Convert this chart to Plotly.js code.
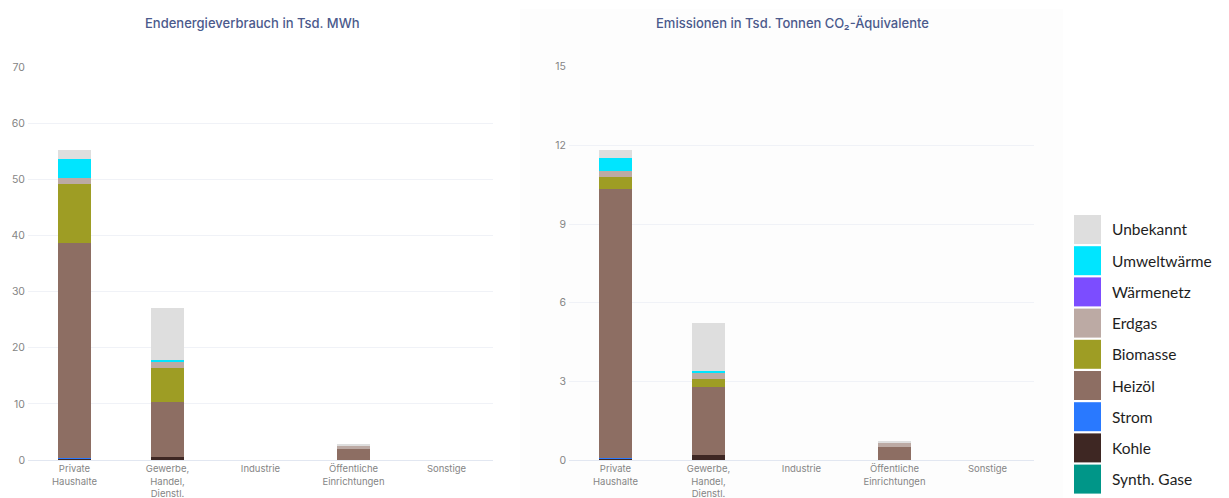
<!DOCTYPE html>
<html>
<head>
<meta charset="utf-8">
<script src="https://cdn.plot.ly/plotly-3.0.1.min.js"></script>
<style>html,body{margin:0;padding:0;background:#fff;}#chart{width:1229px;height:498px;}</style>
</head>
<body>
<div id="chart"></div>
<script>
// Categories (x tick labels)
const categories = ["Private<br>Haushalte", "Gewerbe,<br>Handel,<br>Dienstl.", "Industrie", "Öffentliche<br>Einrichtungen", "Sonstige"];

// Series (bottom to top of stack)
const seriesNames = ["Synth. Gase", "Kohle", "Strom", "Heizöl", "Biomasse", "Erdgas", "Wärmenetz", "Umweltwärme", "Unbekannt"];
const seriesColors = ["#009688", "#3e2723", "#2979ff", "#8d6e63", "#9e9d24", "#bcaaa4", "#7c4dff", "#00e5ff", "#dedede"];

// Endenergieverbrauch in Tsd. MWh (per category)
const energySynthGase   = [0, 0, 0, 0, 0];
const energyKohle       = [0.15, 0.6, 0, 0, 0];
const energyStrom       = [0.12, 0, 0, 0, 0];
const energyHeizoel     = [38.45, 9.8, 0, 2.0, 0];
const energyBiomasse    = [10.45, 6.05, 0, 0, 0];
const energyErdgas      = [1.05, 1.05, 0, 0.5, 0];
const energyWaermenetz  = [0, 0, 0, 0, 0];
const energyUmwelt      = [3.35, 0.35, 0, 0, 0];
const energyUnbekannt   = [1.65, 9.15, 0, 0.4, 0];

// Emissionen in Tsd. Tonnen CO2-Äquivalente (per category)
const emisSynthGase   = [0, 0, 0, 0, 0];
const emisKohle       = [0.03, 0.19, 0, 0, 0];
const emisStrom       = [0.05, 0, 0, 0, 0];
const emisHeizoel     = [10.25, 2.61, 0, 0.51, 0];
const emisBiomasse    = [0.45, 0.28, 0, 0, 0];
const emisErdgas      = [0.25, 0.25, 0, 0.13, 0];
const emisWaermenetz  = [0, 0, 0, 0, 0];
const emisUmwelt      = [0.47, 0.06, 0, 0, 0];
const emisUnbekannt   = [0.32, 1.82, 0, 0.1, 0];

const energySeries = [energySynthGase, energyKohle, energyStrom, energyHeizoel, energyBiomasse, energyErdgas, energyWaermenetz, energyUmwelt, energyUnbekannt];
const emisSeries = [emisSynthGase, emisKohle, emisStrom, emisHeizoel, emisBiomasse, emisErdgas, emisWaermenetz, emisUmwelt, emisUnbekannt];

const energyTicks = [0, 10, 20, 30, 40, 50, 60, 70];
const emisTicks = [0, 3, 6, 9, 12, 15];

const traces = [];
seriesNames.forEach((name, i) => {
  traces.push({type: "bar", name: name, x: categories, y: energySeries[i], xaxis: "x", yaxis: "y",
    marker: {color: seriesColors[i], line: {width: 0}}, showlegend: false});
  traces.push({type: "bar", name: name, x: categories, y: emisSeries[i], xaxis: "x2", yaxis: "y2",
    marker: {color: seriesColors[i], line: {width: 0}}, showlegend: false});
});

const W = 1229, H = 498;
const px = v => v / W, py = v => 1 - v / H;

const tickFont = {family: "Inter, 'Open Sans', sans-serif", size: 9.5, color: "#858585"};
const xAxisBase = {type: "category", tickfont: tickFont, showgrid: false, showline: true, linecolor: "#e2e7f1", linewidth: 1, ticks: "", ticklabelstandoff: 0, fixedrange: true};
const yAxisBase = {tickfont: Object.assign({}, tickFont, {size: 10.5}), showgrid: true, gridcolor: "#f0f2f7", gridwidth: 1, zeroline: false, showline: false, ticks: "", ticklabelstandoff: 2, fixedrange: true};

const shapes = [
  {type: "rect", xref: "paper", yref: "paper", x0: px(520), x1: px(1063), y0: 0, y1: py(9), fillcolor: "#fdfdfd", line: {width: 0}, layer: "below"}
];
const titleFont = {family: "Inter, 'Open Sans', sans-serif", size: 13, color: "#4b5a8c", weight: 500};
const annotations = [
  {text: "Endenergieverbrauch in Tsd. MWh", xref: "paper", yref: "paper", x: px(252), y: py(23), showarrow: false,
    xanchor: "center", yanchor: "middle", font: titleFont},
  {text: "Emissionen in Tsd. Tonnen CO₂-Äquivalente", xref: "paper", yref: "paper", x: px(792), y: py(23), showarrow: false,
    xanchor: "center", yanchor: "middle", font: titleFont}
];

// Legend (top to bottom = reverse of stack order)
const legendOrder = seriesNames.map((n, i) => i).reverse();
legendOrder.forEach((si, k) => {
  const top = 215 + k * 31.2;
  shapes.push({type: "rect", xref: "paper", yref: "paper", x0: px(1074), x1: px(1101), y0: py(top + 29), y1: py(top),
    fillcolor: seriesColors[si], line: {width: 0}});
  annotations.push({text: seriesNames[si], xref: "paper", yref: "paper", x: px(1110), y: py(top + 14.5), showarrow: false,
    xanchor: "left", yanchor: "middle", font: {family: "Lato, 'Open Sans', sans-serif", size: 15.5, color: "#1e1e1e"}});
});

const layout = {
  width: W, height: H,
  margin: {l: 0, r: 0, t: 0, b: 0},
  paper_bgcolor: "#ffffff", plot_bgcolor: "rgba(0,0,0,0)",
  barmode: "stack", bargap: 0.645,
  showlegend: false,
  xaxis: Object.assign({}, xAxisBase, {domain: [px(28), px(493)], anchor: "y"}),
  yaxis: Object.assign({}, yAxisBase, {domain: [1 - 460 / H, 1 - 67 / H], range: [0, 70], tickvals: energyTicks, anchor: "x"}),
  xaxis2: Object.assign({}, xAxisBase, {domain: [px(569), px(1034)], anchor: "y2"}),
  yaxis2: Object.assign({}, yAxisBase, {domain: [1 - 460 / H, 1 - 66.7 / H], range: [0, 15], tickvals: emisTicks, anchor: "x2"}),
  shapes: shapes,
  annotations: annotations,
  font: {family: "Inter, 'Open Sans', sans-serif"}
};

Plotly.newPlot("chart", traces, layout, {displayModeBar: false, staticPlot: true});
</script>
</body>
</html>
